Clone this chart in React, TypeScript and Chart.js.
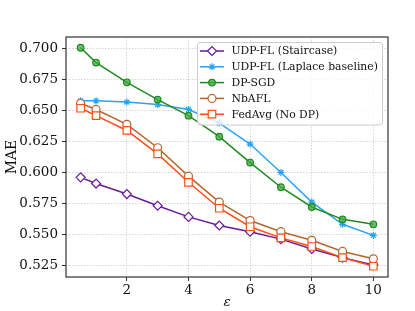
import React, { useEffect, useRef } from "react";
import { Chart, registerables } from "chart.js";
import { drawPoint } from "chart.js/helpers";

Chart.register(...registerables);

const epsilons = [0.5, 1, 2, 3, 4, 5, 6, 7, 8, 9, 10];
const staircase = [0.596, 0.591, 0.5825, 0.573, 0.564, 0.557, 0.552, 0.546, 0.538, 0.531, 0.525];
const laplace = [0.658, 0.658, 0.657, 0.655, 0.651, 0.640, 0.623, 0.600, 0.576, 0.558, 0.549];
const dpsgd = [0.701, 0.689, 0.673, 0.659, 0.646, 0.629, 0.608, 0.588, 0.572, 0.562, 0.558];
const nbafl = [0.656, 0.651, 0.639, 0.620, 0.597, 0.576, 0.561, 0.552, 0.545, 0.536, 0.530];
const fedavg = [0.652, 0.646, 0.634, 0.615, 0.592, 0.571, 0.556, 0.547, 0.540, 0.531, 0.524];

const seriesLabels = [
  "UDP-FL (Staircase)",
  "UDP-FL (Laplace baseline)",
  "DP-SGD",
  "NbAFL",
  "FedAvg (No DP)",
];
const xTicks = [2, 4, 6, 8, 10];
const yTicks = [0.525, 0.55, 0.575, 0.6, 0.625, 0.65, 0.675, 0.7];

const FONT = "'DejaVu Serif', serif";

const styles = [
  { color: "#6a1b9a", point: "rectRot", radius: 4.5, fill: "#ffffff" },
  { color: "#2aa3f5", point: "star", radius: 3.5, fill: "#2aa3f5" },
  { color: "#1f8a1f", point: "circle", radius: 3.3, fill: "rgba(60,170,60,0.75)" },
  { color: "#b8652a", point: "circle", radius: 4, fill: "#ffffff" },
  { color: "#ff4d1a", point: "rect", radius: 5.3, fill: "#ffffff" },
];

const frameAndLegend = {
  id: "frameAndLegend",
  afterDatasetsDraw(chart: any) {
    const { ctx, chartArea } = chart;
    ctx.save();
    ctx.strokeStyle = "#333333";
    ctx.lineWidth = 1.2;
    ctx.strokeRect(chartArea.left, chartArea.top, chartArea.right - chartArea.left, chartArea.bottom - chartArea.top);

    const bx = 197.5, by = 42.5, bw = 185, bh = 82.5, r = 3;
    ctx.beginPath();
    ctx.moveTo(bx + r, by);
    ctx.lineTo(bx + bw - r, by);
    ctx.quadraticCurveTo(bx + bw, by, bx + bw, by + r);
    ctx.lineTo(bx + bw, by + bh - r);
    ctx.quadraticCurveTo(bx + bw, by + bh, bx + bw - r, by + bh);
    ctx.lineTo(bx + r, by + bh);
    ctx.quadraticCurveTo(bx, by + bh, bx, by + bh - r);
    ctx.lineTo(bx, by + r);
    ctx.quadraticCurveTo(bx, by, bx + r, by);
    ctx.closePath();
    ctx.fillStyle = "rgba(255,255,255,0.8)";
    ctx.fill();
    ctx.strokeStyle = "#cccccc";
    ctx.lineWidth = 1;
    ctx.stroke();

    chart.data.datasets.forEach((ds: any, i: number) => {
      const y = 51 + i * 15.8;
      const st = styles[i];
      ctx.strokeStyle = st.color;
      ctx.lineWidth = 1.5;
      ctx.beginPath();
      ctx.moveTo(200, y);
      ctx.lineTo(224, y);
      ctx.stroke();
      ctx.fillStyle = st.fill;
      ctx.strokeStyle = st.color;
      ctx.lineWidth = 1.2;
      drawPoint(ctx, { pointStyle: st.point, radius: st.radius, rotation: 0, borderWidth: 1.2 }, 212, y);
      ctx.fillStyle = "#111111";
      ctx.font = `10.8px ${FONT}`;
      ctx.textBaseline = "middle";
      ctx.textAlign = "left";
      ctx.fillText(ds.label, 231.5, y + 0.5);
    });
    ctx.restore();
  },
};

export default function App() {
  const ref = useRef<HTMLCanvasElement | null>(null);
  useEffect(() => {
    document.body.style.margin = "0";
    const series = [staircase, laplace, dpsgd, nbafl, fedavg];
    const gridOpts: any = {
      color: "#d6d6d6",
      tickColor: "#333333",
      tickLength: 4,
      tickBorderDash: [],
    };
    const borderOpts: any = { display: false, dash: [1.5, 1.5] };
    const chart = new Chart(ref.current as HTMLCanvasElement, {
      type: "line",
      data: {
        datasets: series.map((vals, i) => ({
          label: seriesLabels[i],
          data: epsilons.map((x, j) => ({ x, y: vals[j] })),
          borderColor: styles[i].color,
          backgroundColor: styles[i].fill,
          pointBorderColor: styles[i].color,
          pointBackgroundColor: styles[i].fill,
          pointStyle: styles[i].point as any,
          pointRadius: styles[i].radius,
          pointBorderWidth: 1.2,
          borderWidth: 1.5,
          tension: 0,
          order: 4 - i,
        })),
      },
      options: {
        animation: false,
        responsive: true,
        maintainAspectRatio: false,
        layout: { padding: { left: 0, right: 27, top: 37, bottom: 0 } },
        plugins: { legend: { display: false }, tooltip: { enabled: false } },
        scales: {
          x: {
            type: "linear",
            min: 0.025,
            max: 10.475,
            afterBuildTicks: (s: any) => {
              s.ticks = xTicks.map((v) => ({ value: v }));
            },
            afterFit: (s: any) => {
              s.height = 34;
            },
            grid: gridOpts,
            border: borderOpts,
            ticks: {
              font: { family: FONT, size: 13.5 },
              color: "#111111",
              padding: 1,
              maxRotation: 0,
            },
            title: {
              display: true,
              text: "ε",
              font: { family: FONT, size: 13.5, style: "italic" },
              color: "#111111",
              padding: { top: 1, bottom: 0 },
            },
          },
          y: {
            min: 0.5153,
            max: 0.7097,
            afterBuildTicks: (s: any) => {
              s.ticks = yTicks.map((v) => ({ value: v }));
            },
            afterFit: (s: any) => {
              s.width = 66;
            },
            grid: gridOpts,
            border: borderOpts,
            ticks: {
              font: { family: FONT, size: 13.5 },
              color: "#111111",
              padding: 4,
              callback: (v: any) => Number(v).toFixed(3),
            },
            title: {
              display: true,
              text: "MAE",
              font: { family: FONT, size: 14 },
              color: "#111111",
              padding: { top: 4, bottom: 0 },
            },
          },
        },
      },
      plugins: [frameAndLegend],
    });
    return () => chart.destroy();
  }, []);
  return (
    <div style={{ position: "fixed", left: 0, top: 0, width: 415, height: 311 }}>
      <canvas ref={ref} />
    </div>
  );
}
